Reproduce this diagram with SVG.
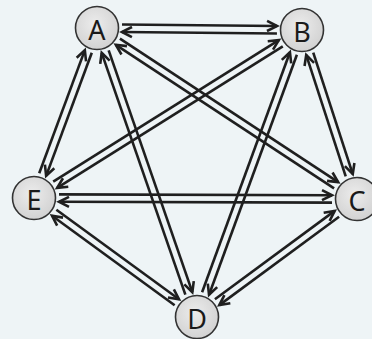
<svg xmlns="http://www.w3.org/2000/svg" width="372" height="339" viewBox="0 0 372 339">
<defs>
<style>
.bg{fill:#eef4f6}
.e line{stroke:#1f1f1f;stroke-width:2.6;fill:none;marker-end:url(#ah)}
.n circle{fill:url(#g);stroke:#333;stroke-width:1.6}
.n text{font-family:"Noto Sans","Liberation Sans",sans-serif;font-size:27px;fill:#1a1a1a;text-anchor:middle;dominant-baseline:central}
</style>
<radialGradient id="g" cx="0.45" cy="0.4" r="0.65">
<stop offset="0" stop-color="#ececec"/>
<stop offset="1" stop-color="#d0d0d0"/>
</radialGradient>
<marker id="ah" markerUnits="userSpaceOnUse" markerWidth="16" markerHeight="16" viewBox="-12 -8 14 16" refX="0" refY="0" orient="auto" overflow="visible">
<path d="M-10,-5 L0,0 L-10,5" fill="none" stroke="#1f1f1f" stroke-width="2.6" stroke-linejoin="miter"/>
</marker>
</defs>
<rect class="bg" x="0" y="0" width="372" height="339"/>
<g id="connectors" class="e">
<g transform="translate(97,28) rotate(0.56)"><line x1="25" y1="-3.7" x2="180" y2="-3.7"/><line x1="180" y1="3.7" x2="25" y2="3.7"/></g>
<g transform="translate(97,28) rotate(33.33)"><line x1="25" y1="-3.7" x2="286.2" y2="-3.7"/><line x1="286.2" y1="3.7" x2="25" y2="3.7"/></g>
<g transform="translate(97,28) rotate(70.91)"><line x1="25" y1="-3.7" x2="280.8" y2="-3.7"/><line x1="280.8" y1="3.7" x2="25" y2="3.7"/></g>
<g transform="translate(97,28) rotate(110.34)"><line x1="25" y1="-3.7" x2="156.3" y2="-3.7"/><line x1="156.3" y1="3.7" x2="25" y2="3.7"/></g>
<g transform="translate(302,30) rotate(71.98)"><line x1="25" y1="-3.7" x2="152.7" y2="-3.7"/><line x1="152.7" y1="3.7" x2="25" y2="3.7"/></g>
<g transform="translate(302,30) rotate(110.10)"><line x1="25" y1="-3.7" x2="280.6" y2="-3.7"/><line x1="280.6" y1="3.7" x2="25" y2="3.7"/></g>
<g transform="translate(302,30) rotate(147.92)"><line x1="25" y1="-3.7" x2="291.3" y2="-3.7"/><line x1="291.3" y1="3.7" x2="25" y2="3.7"/></g>
<g transform="translate(357,199) rotate(143.59)"><line x1="25" y1="-3.7" x2="173.8" y2="-3.7"/><line x1="173.8" y1="3.7" x2="25" y2="3.7"/></g>
<g transform="translate(357,199) rotate(180.18)"><line x1="25" y1="-3.7" x2="298" y2="-3.7"/><line x1="298" y1="3.7" x2="25" y2="3.7"/></g>
<g transform="translate(197,317) rotate(-143.87)"><line x1="25" y1="-3.7" x2="176.8" y2="-3.7"/><line x1="176.8" y1="3.7" x2="25" y2="3.7"/></g>
</g>
<g id="A" class="n"><circle cx="97" cy="28" r="21.5"/><text x="97" y="29">A</text></g>
<g id="B" class="n"><circle cx="302" cy="30" r="21.5"/><text x="302" y="31">B</text></g>
<g id="C" class="n"><circle cx="357" cy="199" r="21.5"/><text x="357" y="200">C</text></g>
<g id="D" class="n"><circle cx="197" cy="317" r="21.5"/><text x="197" y="318">D</text></g>
<g id="E" class="n"><circle cx="34" cy="198" r="21.5"/><text x="34" y="199">E</text></g>
</svg>
